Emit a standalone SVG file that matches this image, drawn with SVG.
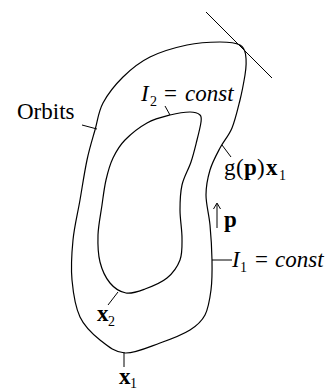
<svg xmlns="http://www.w3.org/2000/svg" width="327" height="391" viewBox="0 0 327 391">
<style>
.c{fill:none;stroke:#000;stroke-width:1.2}
.l{fill:none;stroke:#000;stroke-width:1}
.t{font-family:'Liberation Serif','Times New Roman',serif;font-size:23px;fill:#000}
.i{font-style:italic}
.b{font-weight:bold}
.s{font-size:14px}
</style>
<rect width="327" height="391" fill="#fff"/>
<g id="outer-orbit">
<path class="c" d="M240,45 C235.5,42.5 228.8,42 220,42 C211.2,42 198.7,42.5 187,45 C175.3,47.5 160.7,51.7 150,57 C139.3,62.3 130.8,69.3 123,77 C115.2,84.7 107.7,94.2 103,103 C98.3,111.8 97.7,120.5 95,130 C92.3,139.5 89.5,148.3 87,160 C84.5,171.7 82.3,186.7 80,200 C77.7,213.3 74.3,226.7 73,240 C71.7,253.3 70.8,267.2 72,280 C73.2,292.8 75.3,307 80,317 C84.7,327 92.5,334 100,340 C107.5,346 115,352.5 125,353 C135,353.5 149.2,346.8 160,343 C170.8,339.2 182.5,334.7 190,330 C197.5,325.3 201.5,321.7 205,315 C208.5,308.3 209.8,299.2 211,290 C212.2,280.8 212.2,270.8 212,260 C211.8,249.2 211,235.8 210,225 C209,214.2 206,204.2 206,195 C206,185.8 207.7,177.8 210,170 C212.3,162.2 216.3,155 220,148 C223.7,141 228.7,136 232,128 C235.3,120 237.8,108.8 240,100 C242.2,91.2 243.8,82.2 245,75 C246.2,67.8 246.5,60 245.5,54 C244.8,50 243.5,47 240,45 Z"/>
</g>
<g id="inner-orbit">
<path class="c" d="M200,115 C198.2,113.3 195,112 190,112 C185,112 177.2,113.2 170,115 C162.8,116.8 154.5,118.8 147,123 C139.5,127.2 130.7,134.2 125,140 C119.3,145.8 116.2,151.3 113,158 C109.8,164.7 107.8,172.2 106,180 C104.2,187.8 103.3,195.8 102,205 C100.7,214.2 98.3,225.5 98,235 C97.7,244.5 98,254 100,262 C102,270 105.7,277.8 110,283 C114.3,288.2 120.2,292 126,293 C131.8,294 138.2,291.5 145,289 C151.8,286.5 161.2,282.8 167,278 C172.8,273.2 177.5,266.7 180,260 C182.5,253.3 182,246.3 182,238 C182,229.7 180,218.8 180,210 C180,201.2 180.2,193 182,185 C183.8,177 188.5,169.5 191,162 C193.5,154.5 195.3,146.7 197,140 C198.7,133.3 200.5,126.2 201,122 C201.5,117.8 201.8,116.7 200,115 Z"/>
</g>
<g id="connectors">
<line class="l" x1="206" y1="12" x2="272" y2="78"/>
<line class="l" x1="82" y1="125" x2="97" y2="129"/>
<line class="l" x1="165" y1="106" x2="170" y2="115"/>
<line class="l" x1="222" y1="145" x2="231" y2="157"/>
<line class="l" x1="212" y1="260" x2="232" y2="260"/>
<line class="l" x1="108" y1="305" x2="118" y2="292"/>
<line class="l" x1="124" y1="352" x2="124" y2="367"/>
<line class="l" x1="217" y1="228" x2="217" y2="204"/>
<path class="l" d="M213.5,209 L217,203 L220.5,209"/>
</g>
<g id="labels">
<text class="t" x="17" y="119">Orbits</text>
<text class="t" y="101"><tspan x="141" class="i">I</tspan><tspan x="150" dy="5" class="s">2</tspan><tspan x="164" dy="-5">=</tspan><tspan x="185" class="i">const</tspan></text>
<text class="t" y="175"><tspan x="224">g</tspan><tspan x="236">(</tspan><tspan x="244" class="b">p</tspan><tspan x="257">)</tspan><tspan x="266" class="b">x</tspan><tspan x="279" dy="5" class="s">1</tspan></text>
<text class="t b" x="224" y="227">p</text>
<text class="t" y="267"><tspan x="232" class="i">I</tspan><tspan x="240" dy="5" class="s">1</tspan><tspan x="255" dy="-5">=</tspan><tspan x="275" class="i">const</tspan></text>
<text class="t" y="321"><tspan x="97" class="b">x</tspan><tspan x="108" dy="5" class="s">2</tspan></text>
<text class="t" y="384"><tspan x="119" class="b">x</tspan><tspan x="130" dy="4" class="s">1</tspan></text>
</g>
</svg>
